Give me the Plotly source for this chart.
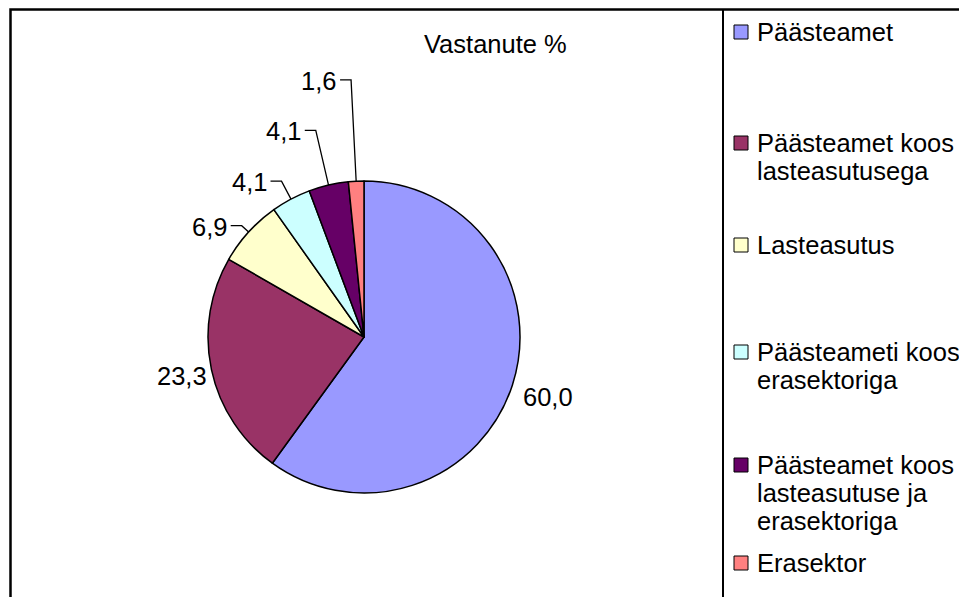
import math
import plotly.graph_objects as go

# ---- data ----
legend_labels = [
    "Päästeamet",
    "Päästeamet koos\nlasteasutusega",
    "Lasteasutus",
    "Päästeameti koos\nerasektoriga",
    "Päästeamet koos\nlasteasutuse ja\nerasektoriga",
    "Erasektor",
]
values = [60.0, 23.3, 6.9, 4.1, 4.1, 1.6]
colors = ["#9999FF", "#993366", "#FFFFCC", "#CCFFFF", "#660066", "#FF8080"]
title_text = "Vastanute %"

labels = [l.replace("\n", " ") for l in legend_labels]
value_text = [f"{v:.1f}".replace(".", ",") for v in values]

# ---- layout helpers (pixel geometry in screenshot coordinates) ----
OFF = 8  # default page body margin
W, H = 967 - OFF, 597 - OFF
FONT = "Liberation Sans, Arial, sans-serif"
FS = 25.5
CX, CY, R = 364, 337, 156


def fx(x):
    return (x - OFF) / W


def fy(y):
    return 1 - (y - OFF) / H


fig = go.Figure()
fig.add_trace(go.Pie(
    labels=labels,
    values=values,
    sort=False,
    direction="clockwise",
    rotation=0,
    marker=dict(colors=colors, line=dict(color="black", width=1.5)),
    textinfo="none",
    textposition="none",
    hoverinfo="label+value",
    showlegend=False,
    domain=dict(x=[fx(CX - R), fx(CX + R)], y=[fy(CY + R), fy(CY - R)]),
))

annotations = []
shapes = []

# label placement: radial factor for centred labels, elbow factor for leader labels
label_mode = ["center", "center", "leader", "leader", "leader", "leader"]
label_factor = [1.24, 1.19, 1.06, 1.13, 1.36, 1.65]

total = sum(values)
cum = 0.0
for i, v in enumerate(values):
    mid = math.radians((cum + v / 2) / total * 360)
    cum += v
    s, c = math.sin(mid), math.cos(mid)
    f = label_factor[i]
    if label_mode[i] == "center":
        x = CX + R * f * s
        y = CY - R * f * c
        annotations.append(dict(x=fx(x), y=fy(y), xref="paper", yref="paper",
                                text=value_text[i], showarrow=False,
                                xanchor="center", yanchor="middle",
                                font=dict(family=FONT, size=FS, color="black")))
    else:
        ex, ey = CX + R * s, CY - R * c
        bx, by = CX + R * f * s, CY - R * f * c
        hx = bx - 11
        shapes.append(dict(type="path", xref="paper", yref="paper",
                           path=f"M {fx(ex)},{fy(ey)} L {fx(bx)},{fy(by)} L {fx(hx)},{fy(by)}",
                           line=dict(color="black", width=1.3)))
        annotations.append(dict(x=fx(hx - 2), y=fy(by + 1), xref="paper", yref="paper",
                                text=value_text[i], showarrow=False,
                                xanchor="right", yanchor="middle",
                                font=dict(family=FONT, size=FS, color="black")))

# title
annotations.append(dict(x=fx(495.5), y=fy(44), xref="paper", yref="paper",
                        text=title_text, showarrow=False, xanchor="center", yanchor="middle",
                        font=dict(family=FONT, size=FS, color="black")))

# manual legend
entry_y = [32, 143, 245, 352, 465, 563]
line_gap = 28
for i, lab in enumerate(legend_labels):
    yc = entry_y[i]
    shapes.append(dict(type="rect", xref="paper", yref="paper",
                       x0=fx(734), x1=fx(748), y0=fy(yc - 7), y1=fy(yc + 7),
                       fillcolor=colors[i], line=dict(color="black", width=1)))
    for j, ln in enumerate(lab.split("\n")):
        annotations.append(dict(x=fx(755), y=fy(yc + j * line_gap), xref="paper", yref="paper",
                                text=ln, showarrow=False, xanchor="left", yanchor="middle",
                                font=dict(family=FONT, size=FS, color="black")))

# chart borders
shapes.append(dict(type="path", xref="paper", yref="paper",
                   path=f"M {fx(10.5)},{fy(610)} L {fx(10.5)},{fy(9.5)} L {fx(980)},{fy(9.5)}",
                   line=dict(color="black", width=2.5)))
shapes.append(dict(type="line", xref="paper", yref="paper",
                   x0=fx(723), x1=fx(723), y0=fy(9.5), y1=fy(610),
                   line=dict(color="black", width=2)))

fig.update_layout(
    width=W, height=H,
    margin=dict(l=0, r=0, t=0, b=0),
    paper_bgcolor="white",
    plot_bgcolor="white",
    annotations=annotations,
    shapes=shapes,
    showlegend=False,
)

fig.write_html("out.html")
